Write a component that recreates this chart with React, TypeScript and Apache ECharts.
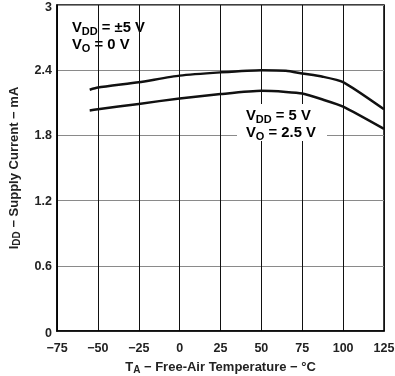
import React, { useEffect, useRef } from "react";
import * as echarts from "echarts";

const temps = [-55, -50, -25, 0, 25, 50, 65, 75, 87.5, 100, 125];
const iddDual = [2.22, 2.24, 2.29, 2.35, 2.38, 2.4, 2.395, 2.37, 2.34, 2.29, 2.04];
const iddSingle = [2.03, 2.04, 2.09, 2.14, 2.18, 2.21, 2.2, 2.185, 2.13, 2.065, 1.86];
const xTicks = { min: -75, max: 125, step: 25 };
const yTicks = { min: 0, max: 3, step: 0.6 };

const FONT = "'Liberation Sans', Arial, sans-serif";

export default function App() {
  const ref = useRef<HTMLDivElement>(null);
  useEffect(() => {
    document.body.style.margin = "0";
    const chart = echarts.init(ref.current!, null, { renderer: "svg", width: 395, height: 376 });
    const richText = {
      m: { fontSize: 14.8, fontWeight: "bold", fontFamily: FONT, color: "#111", lineHeight: 17 },
      s: { fontSize: 11, fontWeight: "bold", fontFamily: FONT, color: "#111", lineHeight: 11, padding: [7, 0, 0, 0] },
    };
    const tickFont = { fontSize: 12.5, fontWeight: "bold", fontFamily: FONT, color: "#222" };
    chart.setOption({
      animation: false,
      grid: {
        left: 57, right: 11, top: 5, bottom: 45,
        outerBoundsMode: "none",
        containLabel: false,
        show: true, borderColor: "#000", borderWidth: 1.5, backgroundColor: "transparent",
      },
      xAxis: {
        type: "value",
        min: xTicks.min,
        max: xTicks.max,
        interval: xTicks.step,
        axisLine: { show: true, onZero: false, lineStyle: { color: "#000", width: 1.5 } },
        axisTick: { show: false },
        splitLine: { show: true, lineStyle: { color: "#111", width: 1 } },
        axisLabel: {
          margin: 10,
          ...tickFont,
          formatter: (v: number) => String(v).replace("-", "\u2212"),
        },
        name: "{m|T}{s|A}{m| \u2212 Free-Air Temperature \u2212 \u00b0C}",
        nameLocation: "middle",
        nameGap: 25,
        nameTextStyle: {
          rich: {
            m: { fontSize: 13, fontWeight: "bold", fontFamily: FONT, color: "#222", lineHeight: 15 },
            s: { fontSize: 10, fontWeight: "bold", fontFamily: FONT, color: "#222", lineHeight: 10, padding: [6, 0, 0, 0] },
          },
        },
      },
      yAxis: {
        type: "value",
        min: yTicks.min,
        max: yTicks.max,
        interval: yTicks.step,
        axisLine: { show: true, onZero: false, lineStyle: { color: "#000", width: 1.5 } },
        axisTick: { show: false },
        splitLine: { show: true, lineStyle: { color: "#8a8a8a", width: 1 } },
        axisLabel: {
          margin: 5,
          ...tickFont,
          formatter: (v: number) => (v === yTicks.max ? "{t|" + v + "}" : v === yTicks.min ? "{b|" + v + "}" : String(v)),
          rich: {
            t: { ...tickFont, padding: [4, 0, 0, 0] },
            b: { ...tickFont, padding: [4, 0, 0, 0] },
          },
        },
        name: "{m|I}{s|DD}{m| \u2212 Supply Current \u2212 mA}",
        nameLocation: "middle",
        nameGap: 36,
        nameTextStyle: {
          rich: {
            m: { fontSize: 13, fontWeight: "bold", fontFamily: FONT, color: "#222", lineHeight: 15 },
            s: { fontSize: 10, fontWeight: "bold", fontFamily: FONT, color: "#222", lineHeight: 10, padding: [6, 0, 0, 0] },
          },
        },
      },
      series: [
        {
          type: "line",
          data: temps.map((t, i) => [t, iddDual[i]]),
          showSymbol: false,
          smooth: 0.2,
          lineStyle: { color: "#111", width: 2.5 },
        },
        {
          type: "line",
          data: temps.map((t, i) => [t, iddSingle[i]]),
          showSymbol: false,
          smooth: 0.2,
          lineStyle: { color: "#111", width: 2.5 },
        },
      ],
      graphic: [
        {
          type: "text",
          left: 72,
          top: 18,
          style: {
            text: "{m|V}{s|DD}{m| = \u00b15 V}\n{m|V}{s|O}{m| = 0 V}",
            rich: richText,
          },
        },
        {
          type: "rect",
          shape: { x: 237, y: 104, width: 90, height: 37 },
          style: { fill: "#fff" },
          z: 10,
        },
        {
          type: "text",
          left: 246,
          top: 106,
          z: 11,
          style: {
            text: "{m|V}{s|DD}{m| = 5 V}\n{m|V}{s|O}{m| = 2.5 V}",
            rich: richText,
          },
        },
      ],
    });
    return () => chart.dispose();
  }, []);
  return <div ref={ref} style={{ position: "fixed", left: 0, top: 0, width: 395, height: 376 }} />;
}
